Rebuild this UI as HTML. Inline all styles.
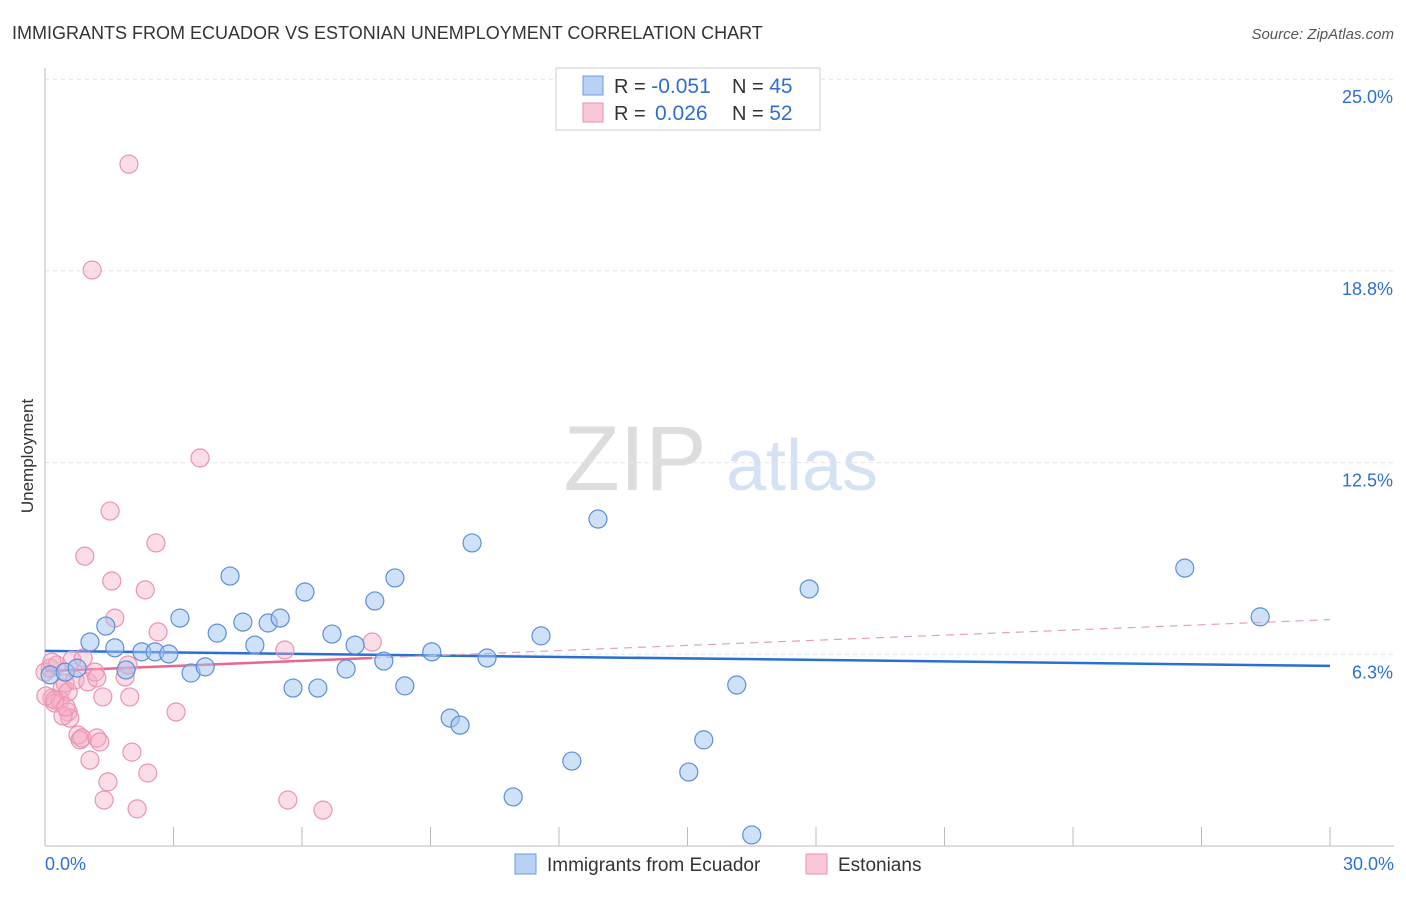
<!DOCTYPE html>
<html><head><meta charset="utf-8"><style>
body{margin:0;background:#fff;font-family:"Liberation Sans",sans-serif;}
svg text{font-family:"Liberation Sans",sans-serif;}
</style></head><body>
<svg id="chart" width="1406" height="892" xmlns="http://www.w3.org/2000/svg">
<text x="12" y="39" font-size="18" fill="#333">IMMIGRANTS FROM ECUADOR VS ESTONIAN UNEMPLOYMENT CORRELATION CHART</text>
<text x="1394" y="39" font-size="15" fill="#555" font-style="italic" text-anchor="end">Source: ZipAtlas.com</text>
<text x="33" y="456" font-size="17" fill="#333" text-anchor="middle" transform="rotate(-90 33 456)">Unemployment</text>
<g><text x="635" y="490" font-size="92" fill="#ddd" font-family="Liberation Serif" text-anchor="middle">ZIP</text><text x="802" y="490" font-size="72" fill="#d4e2f4" text-anchor="middle">atlas</text></g>
<g id="grid"></g><g id="axes"></g><g id="trend"></g><g id="pts"></g>
<g>
<rect x="556" y="68" width="264" height="62" fill="#fff" stroke="#ccc"/>
<rect x="583" y="76" width="20" height="19" fill="#b7d0f3" stroke="#6a9be0"/>
<rect x="583" y="103" width="20" height="19" fill="#f9c7d6" stroke="#e890ab"/>
<text x="614" y="93" font-size="20" fill="#333">R = <tspan fill="#2e6fd6" font-size="21">-0.051</tspan><tspan x="732">N = </tspan><tspan fill="#2e6fd6" font-size="21">45</tspan></text>
<text x="614" y="120" font-size="20" fill="#333">R = <tspan fill="#2e6fd6" x="655" font-size="21">0.026</tspan><tspan x="732">N = </tspan><tspan fill="#2e6fd6" font-size="21">52</tspan></text>
</g>
<g>
<rect x="515" y="854" width="21" height="20" fill="#b7d0f3" stroke="#6a9be0"/>
<text x="547" y="871" font-size="19" fill="#333">Immigrants from Ecuador</text>
<rect x="806" y="854" width="21" height="20" fill="#f9c7d6" stroke="#e890ab"/>
<text x="838" y="871" font-size="19" fill="#333">Estonians</text>
</g>
</svg>
<script>
const blueX=[0.12,0.47,0.75,1.05,1.42,1.63,1.89,2.26,2.57,2.89,3.15,3.41,3.74,4.02,4.32,4.62,4.90,5.21,5.49,5.79,6.07,6.37,6.70,7.03,7.24,7.70,7.91,8.17,8.40,9.03,9.46,9.69,9.97,10.32,10.93,11.58,12.30,12.91,15.03,15.38,16.15,16.50,17.84,26.61,28.37];
const blueY=[5.58,5.67,5.80,6.65,7.17,6.46,5.74,6.33,6.33,6.26,7.43,5.64,5.84,6.94,8.80,7.30,6.55,7.27,7.43,5.15,8.28,5.15,6.91,5.77,6.55,7.99,6.03,8.74,5.22,6.33,4.17,3.94,9.88,6.13,1.60,6.85,2.77,10.66,2.41,3.46,5.25,0.36,8.38,9.06,7.47];
const pinkX=[0.12,0.16,0.23,0.28,0.35,0.40,0.47,0.54,0.54,0.58,0.63,0.70,0.77,0.82,0.86,0.89,0.93,1.00,1.05,1.10,1.17,1.21,1.21,1.35,1.38,1.47,1.52,1.56,1.63,1.87,1.94,1.96,1.98,2.03,2.15,2.34,2.40,2.59,2.64,3.06,3.62,5.60,5.67,6.49,7.64,0.02,0.23,0.42,0.49,0.00,1.28,0.16];
const pinkY=[5.80,4.82,4.66,5.90,4.76,5.15,5.31,5.02,4.37,4.17,6.06,5.41,3.62,3.46,3.52,6.13,9.45,5.35,2.80,18.78,5.67,5.48,3.52,4.86,1.50,2.09,10.92,8.64,7.43,5.51,5.90,22.23,4.86,3.06,1.21,8.35,2.38,9.88,6.98,4.37,12.65,6.39,1.50,1.17,6.65,4.89,4.76,4.24,4.53,5.67,3.39,6.00];
const blueTrend=[6.36,-0.0163];
const pinkTrend=[5.70,0.056];
const yTicks=[25.0,18.8,12.5,6.3];
const yTickVals=[25,18.75,12.5,6.25];
const xTickLabels=["0.0%","30.0%"];
const NS="http://www.w3.org/2000/svg";
const X0=45,X1=1330,YB=846,PX=191.7/6.25;
const sx=v=>X0+(v/30)*(X1-X0), sy=v=>YB-v*PX;
function mk(tag,at,parent){const e=document.createElementNS(NS,tag);for(const k in at)e.setAttribute(k,at[k]);parent.appendChild(e);return e;}
const grid=document.getElementById('grid'),axes=document.getElementById('axes');
yTickVals.forEach((v,i)=>{
 const l=mk('line',{x1:X0,x2:1394,y1:sy(v),y2:sy(v),stroke:'#e4e4e4','stroke-dasharray':'4,4'},grid);
 
 
 const t=mk('text',{x:1393,y:sy(v)+24,'font-size':18,fill:'#2e6fd6','text-anchor':'end'},axes);
 t.textContent=yTicks[i].toFixed(1)+'%';
 
 
});
mk('line',{x1:X0,x2:X0,y1:68,y2:YB,stroke:'#bbb'},axes);
mk('line',{x1:X0,x2:1394,y1:YB,y2:YB,stroke:'#bbb'},axes);
for(let i=0;i<=10;i++){const x=sx(i*3);const l=mk('line',{x1:x,x2:x,y1:827,y2:YB,stroke:'#bbb'},axes);
 
 }
let t1=mk('text',{x:45,y:870,'font-size':18,fill:'#2e6fd6'},axes);t1.textContent=xTickLabels[0];


let t2=mk('text',{x:1394,y:870,'font-size':18,fill:'#2e6fd6','text-anchor':'end'},axes);t2.textContent=xTickLabels[1];


const tr=document.getElementById('trend');
const [bi,bs]=blueTrend;
let bl=mk('line',{x1:sx(0),y1:sy(bi),x2:sx(30),y2:sy(bi+bs*30),stroke:'#2a6fd6','stroke-width':2.5},tr);


const [pi,ps]=pinkTrend;const pm=Math.max(...pinkX);
let pd=mk('line',{x1:sx(pm),y1:sy(pi+ps*pm),x2:sx(30),y2:sy(pi+ps*30),stroke:'#e6a0b6','stroke-width':1.2,'stroke-dasharray':'8,6'},tr);


let pl=mk('line',{x1:sx(0),y1:sy(pi),x2:sx(pm),y2:sy(pi+ps*pm),stroke:'#e8668f','stroke-width':2.5},tr);


const pts=document.getElementById('pts');
pinkX.forEach((x,i)=>{const c=mk('circle',{cx:sx(x),cy:sy(pinkY[i]),r:9,fill:'rgba(246,170,195,0.4)',stroke:'#eb93b0','stroke-width':1.2},pts);
 
 });
blueX.forEach((x,i)=>{const c=mk('circle',{cx:sx(x),cy:sy(blueY[i]),r:9,fill:'rgba(160,195,240,0.5)',stroke:'#5b8fd9','stroke-width':1.2},pts);
 
 });
</script>
</body></html>
